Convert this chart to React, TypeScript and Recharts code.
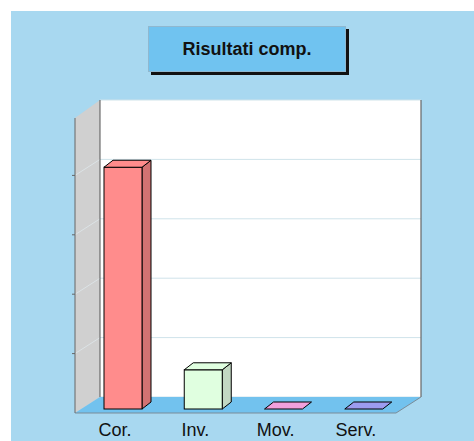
import React from 'react';
import { BarChart, Bar, XAxis, YAxis, CartesianGrid, Customized } from 'recharts';

const categories = ['Cor.', 'Inv.', 'Mov.', 'Serv.'];
const values = [40.7, 6.6, 0, 0];
const yTicks = [0, 10, 20, 30, 40, 50];
const frontColors = ['#FF8C8C', '#E0FFE0', '#F2A0DC', '#9C9CF0'];
const sideColors = ['#D27272', '#C2D8C2', '#C880B4', '#7C7CC8'];

const data = categories.map((name, i) => ({ name, value: values[i] }));

const W = 474;
const H = 441;
const MARGIN = { top: 100, left: 100, right: 53, bottom: 14 };
const XAXIS_H = 30;
const PLOT = {
  left: MARGIN.left,
  top: MARGIN.top,
  right: W - MARGIN.right,
  bottom: H - MARGIN.bottom - XAXIS_H,
};
const DEPTH = { dx: 25, dy: 16 };
const FRONT = { dx: -17, dy: 12 };
const BACK = { dx: -8, dy: 5 };
const FONT = "'Liberation Sans', Arial, Helvetica, sans-serif";

const Walls = () => {
  const { left, top, right, bottom } = PLOT;
  const fl = left - DEPTH.dx;
  const fb = bottom + DEPTH.dy;
  const ft = top + DEPTH.dy + 2;
  const span = bottom - top;
  const levels = yTicks.slice(1, -1).map((t) => bottom - (t / yTicks[yTicks.length - 1]) * span);
  return (
    <g>
      <polygon points={`${fl},${ft} ${left},${top} ${left},${bottom} ${fl},${fb}`} fill="#D0D0D0" />
      {levels.map((ly, i) => (
        <line key={i} x1={fl} y1={ly + DEPTH.dy} x2={left} y2={ly} stroke="#DCE3E6" strokeWidth={1} />
      ))}
      <line x1={left} y1={top} x2={left} y2={bottom} stroke="#555" strokeWidth={1} />
      <line x1={right} y1={top} x2={right} y2={bottom} stroke="#666" strokeWidth={1.2} />
      <polygon
        points={`${fl},${fb} ${right - DEPTH.dx},${fb} ${right},${bottom} ${left},${bottom}`}
        fill="#72C2EE"
      />
      <polyline
        points={`${fl},${fb} ${right - DEPTH.dx},${fb} ${right},${bottom}`}
        fill="none"
        stroke="#7A8C98"
        strokeWidth={1}
      />
      <line x1={fl} y1={ft} x2={fl} y2={fb} stroke="#666" strokeWidth={1} />
      {levels.map((ly, i) => (
        <line key={'t' + i} x1={fl - 3} y1={ly + DEPTH.dy} x2={fl} y2={ly + DEPTH.dy} stroke="#666" strokeWidth={1} />
      ))}
    </g>
  );
};

const Bar3D = (props: any) => {
  const { x, y, width: w, height: h, index } = props;
  if (x == null || y == null) return null;
  const fx = x + FRONT.dx;
  const fy = y + FRONT.dy;
  const bx = x + BACK.dx;
  const by = y + BACK.dy;
  const hh = Math.max(0, h || 0);
  const front = frontColors[index];
  const side = sideColors[index];
  return (
    <g>
      {hh > 0 && (
        <polygon
          points={`${fx + w},${fy} ${bx + w},${by} ${bx + w},${by + hh} ${fx + w},${fy + hh}`}
          fill={side}
          stroke="#000"
          strokeWidth={1}
          strokeLinejoin="round"
        />
      )}
      {hh > 0 && <rect x={fx} y={fy} width={w} height={hh} fill={front} stroke="#000" strokeWidth={1} />}
      <polygon
        points={`${fx},${fy} ${fx + w},${fy} ${bx + w},${by} ${bx},${by}`}
        fill={front}
        stroke="#000"
        strokeWidth={1}
        strokeLinejoin="round"
      />
    </g>
  );
};

const Tick = (props: any) => {
  const { x, y, payload } = props;
  return (
    <text x={x - DEPTH.dx} y={y} dy={31} textAnchor="middle" fontFamily={FONT} fontSize={18} fill="#111">
      {payload.value}
    </text>
  );
};

export default function App() {
  return (
    <div style={{ position: 'absolute', left: 0, top: 0, width: W, height: H, background: '#fff' }}>
      <div style={{ position: 'absolute', left: 11, top: 11, width: W - 11, height: H - 11, background: '#A8D8F0' }} />
      <div style={{ position: 'absolute', left: 0, top: 0 }}>
        <BarChart width={W} height={H} data={data} margin={MARGIN}>
          <CartesianGrid vertical={false} fill="#FFFFFF" stroke="#CFE3EA" horizontalValues={yTicks} />
          <YAxis hide domain={[0, 50]} ticks={yTicks} />
          <XAxis dataKey="name" axisLine={false} tickLine={false} height={XAXIS_H} tick={<Tick />} interval={0} />
          <Customized component={<Walls />} />
          <Bar dataKey="value" barSize={38} shape={<Bar3D />} isAnimationActive={false} />
        </BarChart>
      </div>
      <div
        style={{
          position: 'absolute',
          left: 148,
          top: 26,
          width: 196,
          height: 44,
          background: '#70C3F0',
          border: '1px solid #8FB8D0',
          boxShadow: '3px 3px 0 #111',
          display: 'flex',
          alignItems: 'center',
          justifyContent: 'center',
          fontFamily: FONT,
          fontWeight: 'bold',
          fontSize: 18,
          color: '#111',
        }}
      >
        Risultati comp.
      </div>
    </div>
  );
}
